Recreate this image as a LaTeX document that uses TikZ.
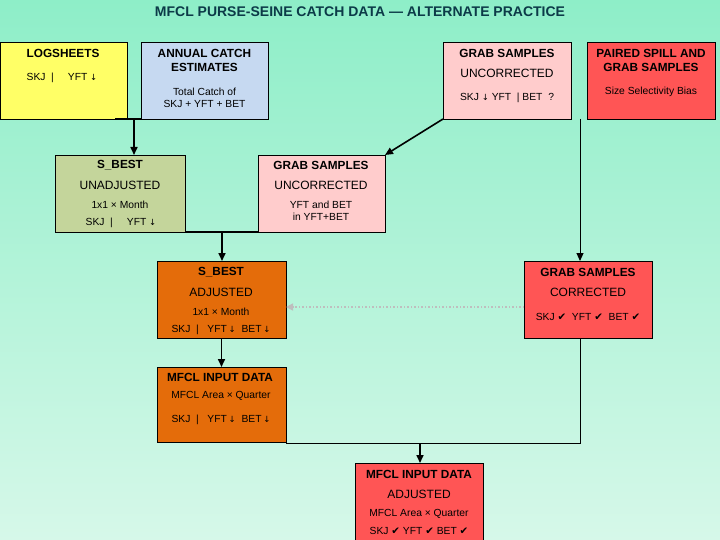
\documentclass[tikz,border=0pt]{standalone}
\usepackage{fontspec}
\setmainfont{Liberation Sans}
\newfontfamily\dejavu{DejaVu Sans}
\usetikzlibrary{arrows.meta,calc}
\newcommand{\mydn}{{\dejavu\fontsize{8.5}{9}\selectfont ↓}}
\newcommand{\myck}{{\dejavu ✔}}
\definecolor{bgtop}{RGB}{142,238,200}
\definecolor{bgbot}{RGB}{214,248,233}
\definecolor{titlecol}{RGB}{12,58,72}
\definecolor{cyellow}{RGB}{255,255,102}
\definecolor{cblue}{RGB}{198,217,241}
\definecolor{cpink}{RGB}{255,204,204}
\definecolor{cred}{RGB}{255,85,85}
\definecolor{colive}{RGB}{196,213,155}
\definecolor{corange}{RGB}{228,108,10}
\definecolor{cgray}{RGB}{190,190,190}
\tikzset{
  box/.style={draw=black, line width=0.9pt, anchor=north west, inner sep=0pt, outer sep=0pt},
  hd/.style={font=\bfseries\fontsize{11.8}{13}\selectfont, inner sep=0pt},
  tx/.style={font=\fontsize{12}{13}\selectfont, inner sep=0pt},
  sm/.style={font=\fontsize{10.3}{11}\selectfont, inner sep=0pt},
  conn/.style={draw=black, line width=1.2pt},
  arr/.style={conn, line width=1.6pt, -{Triangle[length=8pt,width=7pt]}},
}
\begin{document}
\begin{tikzpicture}[x=1pt,y=-1pt]
\useasboundingbox (0,0) rectangle (720,540);
\shade[top color=bgtop, bottom color=bgbot] (0,0) rectangle (720,540);

\node[font=\bfseries\fontsize{14}{16}\selectfont, text=titlecol, inner sep=0pt] (title) at (360,12) {MFCL PURSE-SEINE CATCH DATA — ALTERNATE PRACTICE};

% row 1
\node[box, fill=cyellow, minimum width=127pt, minimum height=77pt] (b1) at (0,42) {};
\node[hd] (b1a) at (63,53) {LOGSHEETS};
\node[sm] (b1b) at (62,78) {SKJ~~|\hspace{14pt}YFT~\mydn};

\node[box, fill=cblue, minimum width=127pt, minimum height=77pt] (b2) at (141,42) {};
\node[hd] (b2a) at (204.5,53) {ANNUAL CATCH};
\node[hd] (b2b) at (204.5,67) {ESTIMATES};
\node[sm] (b2c) at (204.5,92) {Total Catch of};
\node[sm] (b2d) at (204.5,104) {SKJ + YFT + BET};

\node[box, fill=cpink, minimum width=128pt, minimum height=77pt] (g1) at (443,42) {};
\node[hd] (g1a) at (507,53) {GRAB SAMPLES};
\node[tx] (g1b) at (507,73) {UNCORRECTED};
\node[sm] (g1c) at (507,98) {SKJ \mydn\ YFT~~|~BET~~?};

\node[box, fill=cred, minimum width=128pt, minimum height=77pt] (p1) at (587,42) {};
\node[hd] (p1a) at (651,53) {PAIRED SPILL AND};
\node[hd] (p1b) at (651,67) {GRAB SAMPLES};
\node[sm] (p1c) at (651,92) {Size Selectivity Bias};

% row 2
\node[box, fill=colive, minimum width=130pt, minimum height=77pt] (s1) at (55,155) {};
\node[hd] (s1a) at (120,165) {S\_BEST};
\node[tx] (s1b) at (120,185) {UNADJUSTED};
\node[sm] (s1c) at (120,205) {1x1 × Month};
\node[sm] (s1d) at (121,223) {SKJ~~|\hspace{14pt}YFT~\mydn};

\node[box, fill=cpink, minimum width=127pt, minimum height=77pt] (g2) at (258,155) {};
\node[hd] (g2a) at (321,165) {GRAB SAMPLES};
\node[tx] (g2b) at (321,185) {UNCORRECTED};
\node[sm] (g2c) at (321,205) {YFT and BET};
\node[sm] (g2d) at (321,217) {in YFT+BET};

% row 3
\node[box, fill=corange, minimum width=129pt, minimum height=77pt] (s2) at (157,261) {};
\node[hd] (s2a) at (221,272) {S\_BEST};
\node[tx] (s2b) at (221,292) {ADJUSTED};
\node[sm] (s2c) at (221,312) {1x1 × Month};
\node[sm] (s2d) at (221,330) {SKJ~~|~~~YFT\,\mydn~~BET\,\mydn};

\node[box, fill=cred, minimum width=128pt, minimum height=77pt] (c1) at (524,261) {};
\node[hd] (c1a) at (588,272) {GRAB SAMPLES};
\node[tx] (c1b) at (588,292) {CORRECTED};
\node[sm] (c1c) at (588,317) {SKJ \myck\ \ YFT \myck\ \ BET \myck};

% row 4
\node[box, fill=corange, minimum width=129pt, minimum height=75pt] (m1) at (157,367) {};
\node[hd] (m1a) at (220,377) {MFCL INPUT DATA};
\node[sm] (m1b) at (221,396) {MFCL Area × Quarter};
\node[sm] (m1c) at (221,420) {SKJ~~|~~~YFT\,\mydn~~BET\,\mydn};

\node[box, fill=cred, minimum width=128pt, minimum height=78pt] (m2) at (355,463) {};
\node[hd] (m2a) at (419,474) {MFCL INPUT DATA};
\node[tx] (m2b) at (419,494) {ADJUSTED};
\node[sm] (m2c) at (419,514) {MFCL Area × Quarter};
\node[sm] (m2d) at (419,531) {SKJ \myck\ YFT \myck\ BET \myck};

% connectors
\coordinate (j1) at (134,119);
\draw[conn] ($(b1.south east)+(-12,0)$) -- (b2.south west);
\draw[arr] (j1) -- (j1 |- s1.north);

\draw[arr] (g1.south west) -- (g2.north east);

\coordinate (j2) at (580,119);
\draw[arr, line width=1pt] (j2) -- (j2 |- c1.north);

\coordinate (j3) at (222,232);
\draw[conn, line width=1pt] (s1.south east) -- (g2.south west);
\draw[arr] (j3) -- (j3 |- s2.north);

\draw[cgray, line width=1.5pt, dotted, -{Triangle[length=7pt,width=7pt]}] (c1.west |- 0,307) -- (s2.east |- 0,307);

\draw[arr] (s2.south) -- (m1.north);

\coordinate (j4) at (580,443);
\coordinate (j5) at (420,443);
\draw[conn, line width=1pt] (j2 |- c1.south) -- (j4) -- (m1.south east |- j4);
\draw[arr] (j5) -- (j5 |- m2.north);
\end{tikzpicture}
\end{document}
